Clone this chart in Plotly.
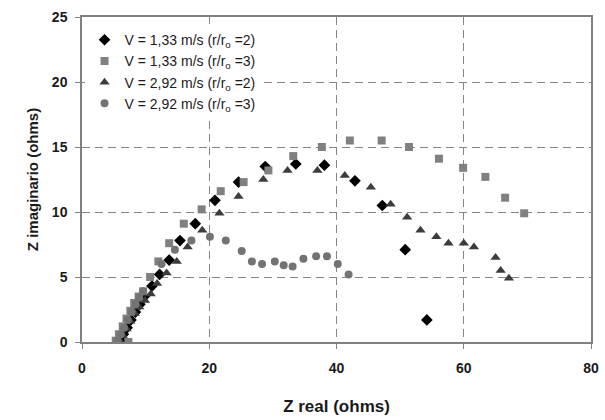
import plotly.graph_objects as go

# Impedance spectra: real vs imaginary part (ohms)
names = [
    "V = 1,33 m/s (r/r<sub>o</sub> =2)",
    "V = 1,33 m/s (r/r<sub>o</sub> =3)",
    "V = 2,92 m/s (r/r<sub>o</sub> =2)",
    "V = 2,92 m/s (r/r<sub>o</sub> =3)",
]

# V = 1,33 m/s, r/ro = 2
zr_a = [6.0, 6.5, 7.1, 7.7, 8.4, 9.1, 9.8, 11.0, 12.2, 13.7, 15.4, 17.8, 20.9,
        24.6, 28.8, 33.6, 38.1, 42.9, 47.2, 50.8, 54.2]
zi_a = [0.1, 0.6, 1.1, 1.7, 2.3, 2.9, 3.5, 4.3, 5.2, 6.3, 7.8, 9.1, 10.9,
        12.3, 13.5, 13.7, 13.6, 12.4, 10.5, 7.1, 1.7]

# V = 1,33 m/s, r/ro = 3
zr_b = [5.3, 7.3, 5.8, 6.4, 7.0, 7.6, 8.2, 8.9, 9.6, 10.7, 12.0, 13.7, 16.0,
        18.8, 21.8, 25.4, 29.3, 33.2, 37.7, 42.1, 47.1, 51.4, 56.1, 59.9, 63.4,
        66.5, 69.5]
zi_b = [0.1, 0.0, 0.6, 1.2, 1.8, 2.4, 3.0, 3.5, 3.9, 5.0, 6.2, 7.6, 9.1,
        10.2, 11.6, 12.3, 13.2, 14.3, 15.0, 15.5, 15.5, 15.0, 14.1, 13.4, 12.7,
        11.1, 9.9]

# V = 2,92 m/s, r/ro = 2
zr_c = [5.9, 6.4, 7.0, 7.6, 8.3, 9.0, 9.9, 10.8, 11.8, 13.3, 14.9, 16.6, 18.9,
        21.6, 24.6, 28.5, 32.3, 37.0, 41.3, 45.4, 48.5, 51.1, 53.2, 55.7, 57.6,
        60.0, 61.6, 65.0, 65.8, 67.1]
zi_c = [0.1, 0.5, 1.0, 1.6, 2.2, 2.7, 3.2, 3.7, 4.5, 5.3, 6.2, 7.3, 8.6,
        9.9, 11.2, 12.5, 13.2, 13.2, 12.8, 11.9, 10.6, 9.6, 8.6, 8.1, 7.6,
        7.6, 7.3, 6.5, 5.5, 4.9]

# V = 2,92 m/s, r/ro = 3
zr_d = [5.6, 6.1, 6.6, 7.2, 7.8, 8.4, 9.0, 9.6, 12.5, 14.6, 17.2, 20.1, 22.6, 25.1,
        26.7, 28.3, 30.3, 31.7, 33.1, 34.8, 36.8, 38.5, 40.2, 41.9]
zi_d = [0.1, 0.6, 1.1, 1.7, 2.3, 2.9, 3.4, 3.9, 6.0, 7.1, 7.8, 8.1, 7.8, 7.0,
        6.2, 6.0, 6.2, 5.9, 5.8, 6.4, 6.6, 6.6, 6.0, 5.2]

x_ticks = [0, 20, 40, 60, 80]
y_ticks = [0, 5, 10, 15, 20, 25]

series = [
    (zr_a, zi_a, "diamond", "#000000", 9),
    (zr_b, zi_b, "square", "#808080", 8),
    (zr_c, zi_c, "triangle-up", "#3c3c3c", 9),
    (zr_d, zi_d, "circle", "#737373", 8),
]

fig = go.Figure()
for name, (xs, ys, sym, col, sz) in zip(names, series):
    fig.add_trace(go.Scatter(
        x=xs, y=ys, mode="markers", name=name,
        marker=dict(symbol=sym, color=col, size=sz, line=dict(width=0)),
    ))

FAMILY = "Liberation Sans, Arial, sans-serif"
axis_font = dict(family=FAMILY, size=14, color="#1a1a1a")

grid = dict(
    showline=True, linecolor="#808080", linewidth=1.5, mirror=True,
    ticks="outside", ticklen=5, tickcolor="#808080",
    showgrid=True, gridcolor="#858585", griddash="8px,5px", gridwidth=1.2,
    zeroline=False, tickfont=axis_font, automargin=False,
)

fig.update_layout(
    width=605, height=420,
    margin=dict(l=82, r=14, t=17, b=78),
    plot_bgcolor="white", paper_bgcolor="white",
    showlegend=True,
    legend=dict(
        x=0.005, y=0.978, xanchor="left", yanchor="top",
        bgcolor="white", borderwidth=0,
        font=dict(family=FAMILY, size=14, color="#1a1a1a"),
        itemsizing="trace", tracegroupgap=0, itemwidth=30,
    ),
    xaxis=dict(
        range=[0, 80], tickvals=x_ticks, ticktext=[f"<b>{v}</b>" for v in x_ticks],
        ticklabelstandoff=7,
        title=dict(text="<b>Z real (ohms)</b>", font=dict(family=FAMILY, size=17, color="#1a1a1a"),
                   standoff=26),
        **grid,
    ),
    yaxis=dict(
        range=[0, 25], tickvals=y_ticks, ticktext=[f"<b>{v}</b>" for v in y_ticks],
        ticklabelstandoff=5,
        title=dict(text="<b>Z imaginario (ohms)</b>", font=dict(family=FAMILY, size=15, color="#1a1a1a"),
                   standoff=10),
        **grid,
    ),
)

fig.write_html("out.html")
